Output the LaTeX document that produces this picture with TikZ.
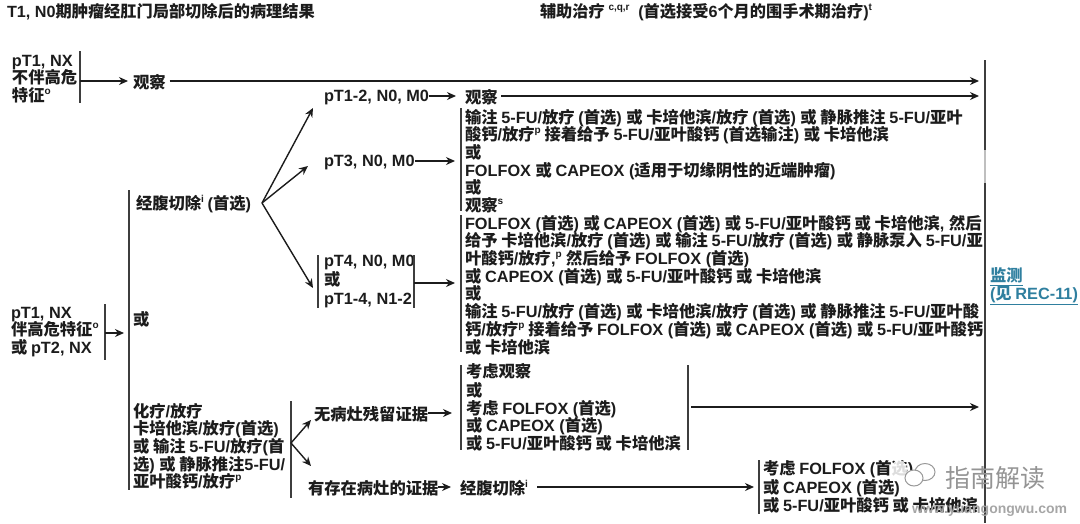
\documentclass[tikz,border=0pt]{standalone}
\usepackage{fontspec}
\usetikzlibrary{arrows.meta}
\setmainfont{Liberation Sans}
\newfontfamily\latinfont{Liberation Sans}
\newfontfamily\cjkfont{Noto Sans CJK SC}
\newXeTeXintercharclass\cjkclass
\newcount\cjkcnt
\cjkcnt="3000
\loop\XeTeXcharclass\cjkcnt=\cjkclass\ifnum\cjkcnt<"9FFF\advance\cjkcnt 1\repeat
\XeTeXinterchartoks 0 \cjkclass={\cjkfont}
\XeTeXinterchartoks \cjkclass 0 ={\latinfont}
\XeTeXinterchartoks 4095 \cjkclass={\cjkfont}
\XeTeXinterchartoks 4095 0 ={\latinfont}
\XeTeXinterchartokenstate=1
\newcommand{\sps}[1]{\raisebox{0.8ex}{\latinfont\fontsize{10}{10}\selectfont #1}}
\definecolor{ink}{HTML}{1C1C1C}
\definecolor{linkc}{HTML}{2F7F9F}
\tikzset{
  txt/.style={inner sep=0pt,outer sep=0pt,anchor=north west,align=left,text=ink,
    font=\fontsize{16.3}{17.7}\selectfont\bfseries},
  head/.style={txt,font=\fontsize{16.2}{18}\selectfont\bfseries},
  bar/.style={draw=ink!85,line width=1.4pt},
  arr/.style={draw=ink,line width=1.4pt,-{Stealth[length=9pt,width=8pt]}},
  link/.style={txt,text=linkc},
  wm/.style={inner sep=0pt,outer sep=0pt,text=black!42}
}
\begin{document}
\begin{tikzpicture}[x=1pt,y=-1pt]
\useasboundingbox (0,0) rectangle (1080,523);
% headings
\node[head] (h1) at (7,3.5) {T1, N0期肿瘤经肛门局部切除后的病理结果};
\node[head] (h2) at (540,3.5) {辅助治疗 \sps{c,q,r}\hspace{5pt} (首选接受6个月的围手术期治疗)\sps{t}};
% right bar
\coordinate (rtop) at (985,60);
\coordinate (rga) at (985,150);
\coordinate (rgb) at (985,183);
\coordinate (rbot) at (985,523);
\draw[bar] (rtop)--(rga);
\draw[draw=black!25,line width=1.4pt] (rga)--(rgb);
\draw[bar] (rgb)--(rbot);
\coordinate (rarr) at (979,0);
% first row
\node[txt] (a1) at (12,55) {pT1, NX\\不伴高危\\特征\sps{o}};
\coordinate (a1t) at (80,51); \coordinate (a1b) at (80,103);
\draw[bar] (a1t)--(a1b);
\coordinate (a1m) at (80,81);
\node[txt] (a2) at (133,74) {观察};
\draw[arr,shorten >=5pt] (a1m)--(a2.west |- a1m);
\draw[arr,shorten <=4pt] (a2.east |- a1m)--(a1m -| rarr);
% second entry
\node[txt] (b1) at (11,307) {pT1, NX\\伴高危特征\sps{o}\\或 pT2, NX};
\coordinate (b1t) at (105,304); \coordinate (b1b) at (105,360);
\draw[bar] (b1t)--(b1b);
\coordinate (b1m) at (105,333);
\coordinate (c0t) at (129,190); \coordinate (c0b) at (129,490);
\draw[bar] (c0t)--(c0b);
\draw[arr,shorten >=5pt] (b1m)--(b1m -| c0t);
% options
\node[txt] (c1) at (136,195) {经腹切除\sps{i} (首选)};
\node[txt] (c2) at (133,311) {或};
\node[txt] (c3) at (133,403) {化疗/放疗\\卡培他滨/放疗(首选)\\或 输注 5-FU/放疗(首\\选) 或 静脉推注5-FU/\\亚叶酸钙/放疗\sps{p}};
% split 1
\coordinate (s1) at (262,203);
\node[txt] (d1) at (324,90) {pT1-2, N0, M0};
\node[txt] (d2) at (324,155) {pT3, N0, M0};
\node[txt] (d3) at (324,255.5) {pT4, N0, M0\\[1pt]或\\[1pt]pT1-4, N1-2};
\coordinate (d1e) at (313,108); \coordinate (d2e) at (308,166); \coordinate (d3e) at (313,288);
\draw[arr] (s1)--(d1e);
\draw[arr] (s1)--(d2e);
\draw[arr] (s1)--(d3e);
\coordinate (d3lt) at (318,255); \coordinate (d3lb) at (318,308);
\coordinate (d3rt) at (414,255); \coordinate (d3rb) at (414,308);
\draw[bar] (d3lt)--(d3lb);
\draw[bar] (d3rt)--(d3rb);
% adjuvant column
\node[txt] (e1) at (465,89) {观察};
\node[txt] (e2) at (465,109) {输注 5-FU/放疗 (首选) 或 卡培他滨/放疗 (首选) 或 静脉推注 5-FU/亚叶\\酸钙/放疗\sps{p} 接着给予 5-FU/亚叶酸钙 (首选输注) 或 卡培他滨\\或\\FOLFOX 或 CAPEOX (适用于切缘阴性的近端肿瘤)\\或\\观察\sps{s}};
\node[txt] (e3) at (465,215) {FOLFOX (首选) 或 CAPEOX (首选) 或 5-FU/亚叶酸钙 或 卡培他滨, 然后\\给予 卡培他滨/放疗 (首选) 或 输注 5-FU/放疗 (首选) 或 静脉泵入 5-FU/亚\\叶酸钙/放疗,\sps{p} 然后给予 FOLFOX (首选)\\或 CAPEOX (首选) 或 5-FU/亚叶酸钙 或 卡培他滨\\或\\输注 5-FU/放疗 (首选) 或 卡培他滨/放疗 (首选) 或 静脉推注 5-FU/亚叶酸\\钙/放疗\sps{p} 接着给予 FOLFOX (首选) 或 CAPEOX (首选) 或 5-FU/亚叶酸钙\\或 卡培他滨};
\coordinate (e2t) at (461,108); \coordinate (e2b) at (461,211);
\coordinate (e3t) at (461,215); \coordinate (e3b) at (461,352);
\draw[bar] (e2t)--(e2b);
\draw[bar] (e3t)--(e3b);
\coordinate (d1a) at (429,96); \coordinate (e1a) at (456,96);
\draw[arr] (d1a)--(e1a);
\coordinate (d2a) at (415,161); \coordinate (e2a) at (455,161);
\draw[arr] (d2a)--(e2a);
\coordinate (d3a) at (414,283); \coordinate (e3a) at (455,283);
\draw[arr] (d3a)--(e3a);
\coordinate (e1s) at (501,96);
\draw[arr] (e1s)--(e1s -| rarr);
% chemo split
\coordinate (f0t) at (291,401); \coordinate (f0b) at (291,498);
\draw[bar] (f0t)--(f0b);
\coordinate (s2) at (291,443);
\coordinate (f1e) at (311,420); \coordinate (f2e) at (311,466);
\draw[arr] (s2)--(f1e);
\draw[arr] (s2)--(f2e);
\node[txt] (f1) at (314,406) {无病灶残留证据};
\node[txt] (f2) at (308,480) {有存在病灶的证据};
\coordinate (f1a) at (428,413); \coordinate (g1a) at (452,413);
\draw[arr] (f1a)--(g1a);
\coordinate (f2a) at (438,487); \coordinate (g2a) at (451,487);
\draw[arr] (f2a)--(g2a);
\node[txt] (g1) at (466,363) {考虑观察\\[1.5pt]或\\考虑 FOLFOX (首选)\\或 CAPEOX (首选)\\或 5-FU/亚叶酸钙 或 卡培他滨};
\coordinate (g1lt) at (461,365); \coordinate (g1lb) at (461,450);
\coordinate (g1rt) at (688,365); \coordinate (g1rb) at (688,450);
\draw[bar] (g1lt)--(g1lb);
\draw[bar] (g1rt)--(g1rb);
\coordinate (g1s) at (691,407);
\draw[arr] (g1s)--(g1s -| rarr);
\node[txt] (g2) at (460,480) {经腹切除\sps{i}};
\coordinate (g2s) at (537,487); \coordinate (h2a) at (754,487);
\draw[arr] (g2s)--(h2a);
\node[txt] (k1) at (763,460.5) {考虑 FOLFOX (首选)\\[1pt]或 CAPEOX (首选)\\[1pt]或 5-FU/亚叶酸钙 或 卡培他滨};
\coordinate (k1t) at (759,460); \coordinate (k1b) at (759,514);
\draw[bar] (k1t)--(k1b);
% link
\node[link] (m1) at (990,268) {\underline{监测}\\\underline{(见 REC-11)}};
% watermark
\fill[white,opacity=.85] (899,470) ellipse (8 and 10);
\node[wm,anchor=west,font=\fontsize{25}{25}\selectfont] (w1) at (945,478) {指南解读};
\draw[draw=black!40,line width=1pt] (925,472) ellipse (10 and 8.5);
\draw[draw=black!40,line width=1pt,fill=white] (914,478) ellipse (9 and 8);
\node[wm,anchor=west,text=black!35,font=\fontsize{14}{14}\selectfont\bfseries] (w2) at (912,511) {www.yuangongwu.com};
\end{tikzpicture}
\end{document}
